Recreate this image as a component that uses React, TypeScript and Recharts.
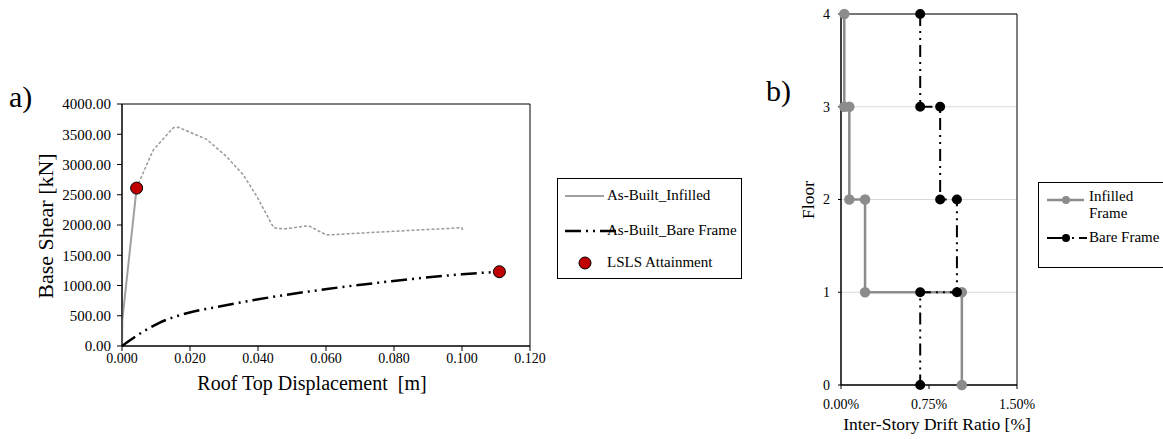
import { LineChart, Line, XAxis, YAxis, CartesianGrid, ReferenceArea } from "recharts";

// a) pushover curves
const infilledDisp = [0, 0.0001, 0.0043];
const infilledShear = [0, 430, 2610];
const infilledPostDisp = [0.0043, 0.0053, 0.0092, 0.0151, 0.0166, 0.0249, 0.0308, 0.0357, 0.0397, 0.0446, 0.0475, 0.0549, 0.0601, 0.0799, 0.1, 0.1002];
const infilledPostShear = [2610, 2744, 3240, 3608, 3615, 3416, 3129, 2826, 2468, 1955, 1934, 1988, 1835, 1896, 1955, 1906];
const bareDisp = [0, 0.0042, 0.0107, 0.0196, 0.0274, 0.0401, 0.0603, 0.0799, 0.1, 0.111];
const bareShear = [0, 165, 375, 550, 640, 772, 942, 1074, 1185, 1228];
const lslsDisp = [0.0043, 0.111];
const lslsShear = [2610, 1228];
const dispTicks = [0, 0.02, 0.04, 0.06, 0.08, 0.1, 0.12];
const shearTicks = [0, 500, 1000, 1500, 2000, 2500, 3000, 3500, 4000];

// b) drift profiles
const floors = [4, 3, 3, 2, 2, 1, 1, 0];
const infilledDrift = [0.028, 0.028, 0.071, 0.071, 0.205, 0.205, 1.03, 1.03];
const bareDrift = [0.675, 0.675, 0.845, 0.845, 0.988, 0.988, 0.675, 0.675];
const driftTicks = [0, 0.75, 1.5];
const floorTicks = [0, 1, 2, 3, 4];

const FONT = '"Liberation Serif", "Times New Roman", serif';
const GRAY = "#8c8c8c";
const RED = "#c00000";
const BARE_DASH = "16 5 2 5 2 5";

const pts = (xs: number[], ys: number[]) => xs.map((x, i) => ({ x, y: ys[i] }));

const abs = (left: number, top: number, extra: React.CSSProperties = {}): React.CSSProperties => ({
  position: "absolute",
  left,
  top,
  fontFamily: FONT,
  color: "#000",
  whiteSpace: "nowrap",
  ...extra,
});

function PushoverChart() {
  return (
    <LineChart width={560} height={439} margin={{ top: 104, right: 30, bottom: 0, left: 0 }}>
      <XAxis
        dataKey="x"
        type="number"
        domain={[0, 0.12]}
        ticks={dispTicks}
        tickFormatter={(v: number) => v.toFixed(3)}
        height={93}
        stroke="#000"
        tickSize={5}
        tickMargin={2}
        tick={{ fill: "#000", fontSize: 14, fontFamily: FONT }}
        allowDuplicatedCategory={false}
      />
      <YAxis
        dataKey="y"
        type="number"
        domain={[0, 4000]}
        ticks={shearTicks}
        tickFormatter={(v: number) => v.toFixed(2)}
        width={122}
        stroke="#000"
        tickSize={5}
        tickMargin={6}
        tick={{ fill: "#000", fontSize: 15, fontFamily: FONT }}
      />
      <ReferenceArea x1={0} x2={0.12} y1={0} y2={4000} fill="none" stroke="#000" strokeWidth={1} />
      <Line
        data={pts(infilledPostDisp, infilledPostShear)}
        dataKey="y"
        type="linear"
        stroke="#999"
        strokeWidth={1.5}
        strokeDasharray="3 2"
        dot={false}
        isAnimationActive={false}
      />
      <Line
        data={pts(infilledDisp, infilledShear)}
        dataKey="y"
        type="linear"
        stroke="#a0a0a0"
        strokeWidth={2}
        dot={false}
        isAnimationActive={false}
      />
      <Line
        data={pts(bareDisp, bareShear)}
        dataKey="y"
        type="monotone"
        stroke="#000"
        strokeWidth={2.5}
        strokeDasharray={BARE_DASH}
        dot={false}
        isAnimationActive={false}
      />
      <Line
        data={pts(lslsDisp, lslsShear)}
        dataKey="y"
        stroke="none"
        dot={{ r: 6, fill: RED, stroke: "#000", strokeWidth: 1 }}
        isAnimationActive={false}
      />
    </LineChart>
  );
}

function DriftChart() {
  return (
    <LineChart width={403} height={439} margin={{ top: 14, right: 146, bottom: 0, left: 0 }}>
      <CartesianGrid vertical={false} stroke="#d9d9d9" />
      <XAxis
        dataKey="x"
        type="number"
        domain={[0, 1.5]}
        ticks={driftTicks}
        tickFormatter={(v: number) => v.toFixed(2) + "%"}
        height={54}
        stroke="#000"
        tickSize={4}
        tickMargin={10}
        tick={{ fill: "#000", fontSize: 14, fontFamily: FONT }}
        allowDuplicatedCategory={false}
      />
      <YAxis
        dataKey="y"
        type="number"
        domain={[0, 4]}
        ticks={floorTicks}
        width={81}
        stroke="#000"
        tickSize={3}
        tickMargin={8}
        tick={{ fill: "#000", fontSize: 14, fontFamily: FONT }}
      />
      <ReferenceArea x1={0} x2={1.5} y1={0} y2={4} fill="none" stroke="#000" strokeWidth={1} />
      <Line
        data={pts(infilledDrift, floors)}
        dataKey="y"
        type="linear"
        stroke={GRAY}
        strokeWidth={2.5}
        dot={{ r: 4, fill: GRAY, stroke: GRAY }}
        isAnimationActive={false}
      />
      <Line
        data={pts(bareDrift, floors)}
        dataKey="y"
        type="linear"
        stroke="#000"
        strokeWidth={2}
        strokeDasharray="12 5 2 5 2 5"
        dot={{ r: 4, fill: "#000", stroke: "#000", strokeDasharray: "" }}
        isAnimationActive={false}
      />
    </LineChart>
  );
}

export default function App() {
  return (
    <div style={{ position: "absolute", left: 0, top: 0, width: 1163, height: 439, background: "#fff", overflow: "hidden" }}>
      <div style={abs(0, 0)}>
        <PushoverChart />
      </div>
      <div style={abs(760, 0)}>
        <DriftChart />
      </div>

      {/* panel a) text */}
      <div style={abs(9, 80, { fontSize: 30 })}>a)</div>
      <div style={abs(46, 226, { fontSize: 22, transform: "translate(-50%, -50%) rotate(-90deg)" })}>Base Shear [kN]</div>
      <div style={abs(312, 383, { fontSize: 20, transform: "translate(-50%, -50%)" })}>Roof Top Displacement&nbsp; [m]</div>

      {/* legend a) */}
      <div style={abs(557, 178, { width: 185, height: 101, border: "1.5px solid #000", boxSizing: "border-box", fontSize: 15 })}>
        <svg width={60} height={100} style={{ position: "absolute", left: 0, top: 0 }}>
          <line x1={7} x2={46} y1={17} y2={17} stroke="#a0a0a0" strokeWidth={2} />
          <line x1={7} x2={58} y1={52} y2={52} stroke="#000" strokeWidth={2.5} strokeDasharray={BARE_DASH} />
          <circle cx={27} cy={84} r={6} fill={RED} stroke="#000" />
        </svg>
        <div style={abs(49, 8)}>As-Built_Infilled</div>
        <div style={abs(49, 43)}>As-Built_Bare Frame</div>
        <div style={abs(49, 75)}>LSLS Attainment</div>
      </div>

      {/* panel b) text */}
      <div style={abs(766, 74, { fontSize: 30 })}>b)</div>
      <div style={abs(808, 200, { fontSize: 17.5, transform: "translate(-50%, -50%) rotate(-90deg)" })}>Floor</div>
      <div style={abs(937, 424, { fontSize: 17.5, transform: "translate(-50%, -50%)" })}>Inter-Story Drift Ratio [%]</div>

      {/* legend b) */}
      <div style={abs(1038, 182, { width: 140, height: 86, border: "1.5px solid #000", boxSizing: "border-box", fontSize: 15 })}>
        <svg width={50} height={86} style={{ position: "absolute", left: 0, top: 0 }}>
          <line x1={8} x2={45} y1={17} y2={17} stroke={GRAY} strokeWidth={2.5} />
          <circle cx={27} cy={17} r={4} fill={GRAY} />
          <line x1={8} x2={48} y1={55} y2={55} stroke="#000" strokeWidth={2} strokeDasharray="20 5 2 5" />
          <circle cx={27} cy={55} r={4} fill="#000" />
        </svg>
        <div style={abs(50, 5, { lineHeight: "17px" })}>
          Infilled
          <br />
          Frame
        </div>
        <div style={abs(50, 46)}>Bare Frame</div>
      </div>
    </div>
  );
}
